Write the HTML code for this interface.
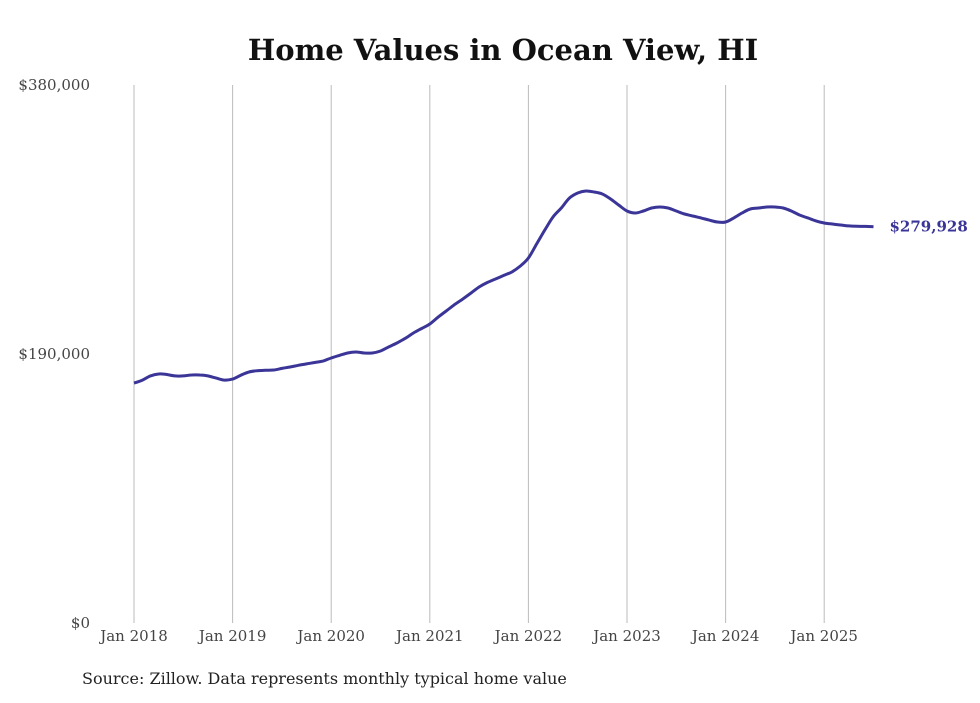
<!DOCTYPE html>
<html><head><meta charset="utf-8"><style>
body{margin:0;background:#fff;width:980px;height:699px;overflow:hidden;font-family:"DejaVu Serif","Liberation Serif",serif}
</style></head><body>
<svg width="980" height="699">
<text x="503" y="60" text-anchor="middle" font-size="29" font-weight="bold" fill="#111">Home Values in Ocean View, HI</text>
<g id="grid"></g><g id="ylabels"></g><g id="xlabels"></g>
<path id="line" fill="none" stroke="#3a3597" stroke-width="3" stroke-linejoin="round"/>
<text id="endlabel" font-size="15" font-weight="bold" fill="#3a3597"></text>
<text x="82" y="684" font-size="16" fill="#222">Source: Zillow. Data represents monthly typical home value</text>
</svg>
<script>
const yTicks=[0,190000,380000];
const yTickLabels=["$0","$190,000","$380,000"];
const xYears=[2018,2019,2020,2021,2022,2023,2024,2025];
const startYear=2018;
const values=[169.5,171.5,174.5,175.9,175.5,174.5,174.5,175.2,175.2,174.5,173,171.6,172.3,175,177.3,178.2,178.5,178.7,179.8,180.8,182,183,184,185,187.2,189,190.7,191.4,190.7,190.7,192.1,195,197.8,201,204.8,208,211.2,216,220.4,224.8,228.8,233,237.3,240.5,243,245.5,248,252.1,257.8,267.7,277.6,286.8,293.1,300.2,303.7,305.1,304.4,303,299.5,295.2,291,289.6,291,293.1,293.8,293.1,291,288.9,287.5,286.1,284.6,283.2,283.2,286.1,289.6,292.4,293.1,293.8,293.8,293.1,291,288.2,286.1,284,282.5,281.8,281.1,280.5,280.2,280.1,279.928];
const lastLabel="$279,928";
const x=y=>134+(y-startYear)*98.6;
const xm=i=>x(startYear+i/12);
const yv=v=>623-v/380000*538;
const ns="http://www.w3.org/2000/svg";
const grid=document.getElementById('grid'),xl=document.getElementById('xlabels'),yl=document.getElementById('ylabels');
xYears.forEach(yr=>{
 const l=document.createElementNS(ns,'line');
 l.setAttribute('x1',x(yr));l.setAttribute('x2',x(yr));l.setAttribute('y1',85);l.setAttribute('y2',623);
 l.setAttribute('stroke','#bbb');l.setAttribute('stroke-width','1');
 
 
 grid.appendChild(l);
 const t=document.createElementNS(ns,'text');
 t.setAttribute('x',x(yr));t.setAttribute('y',641);t.setAttribute('text-anchor','middle');
 t.setAttribute('font-size','15');t.setAttribute('fill','#444');t.textContent='Jan '+yr;
 
 
 xl.appendChild(t);
});
yTicks.forEach((v,i)=>{
 const t=document.createElementNS(ns,'text');
 t.setAttribute('x',90);t.setAttribute('y',yv(v)+5);t.setAttribute('text-anchor','end');
 t.setAttribute('font-size','15');t.setAttribute('fill','#444');t.textContent=yTickLabels[i];
 
 
 yl.appendChild(t);
});
const pts=values.map((v,i)=>[xm(i),yv(v*1000)]);
let d='M'+pts[0][0].toFixed(1)+','+pts[0][1].toFixed(1);
for(let i=0;i<pts.length-1;i++){
 const p0=pts[Math.max(0,i-1)],p1=pts[i],p2=pts[i+1],p3=pts[Math.min(pts.length-1,i+2)];
 const c1=[p1[0]+(p2[0]-p0[0])/6,p1[1]+(p2[1]-p0[1])/6],c2=[p2[0]-(p3[0]-p1[0])/6,p2[1]-(p3[1]-p1[1])/6];
 d+='C'+c1.map(n=>n.toFixed(1)).join(',')+' '+c2.map(n=>n.toFixed(1)).join(',')+' '+p2.map(n=>n.toFixed(1)).join(',');
}
document.getElementById('line').setAttribute('d',d);
const n=values.length-1,el=document.getElementById('endlabel');
el.setAttribute('x',xm(n)+16);el.setAttribute('y',yv(values[n]*1000)+5);el.textContent=lastLabel;
</script>
</body></html>
